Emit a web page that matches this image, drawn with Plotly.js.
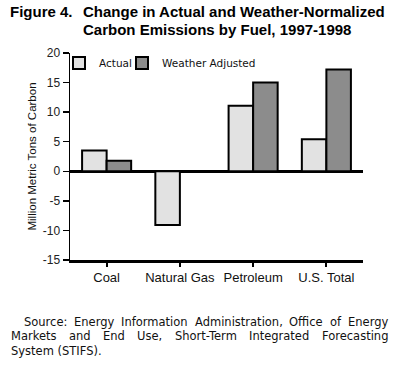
<!DOCTYPE html>
<html><head><meta charset="utf-8">
<script src="https://cdn.plot.ly/plotly-3.0.1.min.js"></script>
<style>html,body{margin:0;padding:0;background:#fff}#chart{width:400px;height:367px}</style>
</head><body><div id="chart"></div>
<script>
// ---- data ----
const categories = ['Coal', 'Natural Gas', 'Petroleum', 'U.S. Total'];
const actual = [3.5, -9.1, 11.1, 5.4];
const weatherAdjusted = [1.8, 0, 15.0, 17.2];
const seriesNames = ['Actual', 'Weather Adjusted'];
const yTicks = [-15, -10, -5, 0, 5, 10, 15, 20];
const figureLabel = 'Figure 4.';
const titleLines = ['Change in Actual and Weather-Normalized', 'Carbon Emissions by Fuel, 1997-1998'];
const yTitle = 'Million Metric Tons of Carbon';
const sourceLines = [
  'Source: Energy Information Administration, Office of Energy',
  'Markets and End Use, Short-Term Integrated Forecasting',
  'System (STIFS).'
];

// ---- layout helpers (plot area is x 70..363, y 53..260 px) ----
const L = 70, R = 363, T = 53, B = 260;
const px = v => (v - L) / (R - L);
const py = v => (B - v) / (B - T);

const sansFamily = '"Liberation Sans", Arial, sans-serif';
const wideFamily = '"DejaVu Sans", sans-serif';
const srcSize = 11.5;
const cvs = document.createElement('canvas');
const ctx = cvs.getContext('2d');
function measure(t, size) { ctx.font = size + 'px "DejaVu Sans"'; return ctx.measureText(t).width; }

const titleFont = {family: sansFamily, size: 15, color: '#000', weight: 'bold'};
const annotations = [];
function titleAnn(text, x, y) {
  annotations.push({text: text, xref: 'paper', yref: 'paper', x: px(x), y: py(y),
    xanchor: 'left', yanchor: 'middle', showarrow: false, borderpad: 0, font: titleFont});
}
titleAnn(figureLabel, 9, 11.5);
titleAnn(titleLines[0], 82, 11.5);
titleAnn(titleLines[1], 82, 29.5);

const srcFont = {family: wideFamily, size: srcSize, color: '#111'};
function srcAnn(text, x, y) {
  annotations.push({text: text, xref: 'paper', yref: 'paper', x: px(x), y: py(y),
    xanchor: 'left', yanchor: 'middle', showarrow: false, borderpad: 0, font: srcFont});
}
function justify(line, x0, x1, yc) {
  const words = line.split(' ');
  const w = words.map(s => measure(s, srcSize));
  const total = w.reduce((a, b) => a + b, 0);
  const gap = (x1 - x0 - total) / (words.length - 1);
  let x = x0;
  words.forEach((s, i) => { srcAnn(s, x, yc); x += w[i] + gap; });
}
justify(sourceLines[0], 23, 387, 321.5);
justify(sourceLines[1], 10, 387, 336);
srcAnn(sourceLines[2], 10, 350.5);

const traces = [
  {type: 'bar', name: seriesNames[0], x: categories, y: actual, legend: 'legend',
   marker: {color: '#e2e2e2', line: {color: '#000', width: 2}}},
  {type: 'bar', name: seriesNames[1], x: categories, y: weatherAdjusted, legend: 'legend2',
   marker: {color: '#8c8c8c', line: {color: '#000', width: 2}}}
];

const legendBase = {orientation: 'h', xanchor: 'left', y: py(63), yanchor: 'middle',
  bgcolor: 'rgba(0,0,0,0)', font: {family: wideFamily, size: 10.5, color: '#111'}, itemwidth: 30};

const layout = {
  width: 400, height: 367,
  margin: {l: L, r: 400 - R, t: T, b: 367 - B, pad: 0},
  paper_bgcolor: '#fff', plot_bgcolor: '#fff',
  barmode: 'group', bargap: 0.33, bargroupgap: 0,
  showlegend: true,
  legend: Object.assign({}, legendBase, {x: px(59)}),
  legend2: Object.assign({}, legendBase, {x: px(122)}),
  xaxis: {type: 'category', range: [-0.5, 3.5], showline: true, linecolor: '#000', linewidth: 2.5,
    ticks: 'outside', ticklen: 4, tickwidth: 2, tickcolor: '#000', showgrid: false,
    tickfont: {family: sansFamily, size: 13, color: '#111'}, fixedrange: true},
  yaxis: {range: [-15, 20], tickvals: yTicks, ticktext: yTicks.map(String),
    showline: true, linecolor: '#000', linewidth: 1.5, ticks: 'outside', ticklen: 6, tickwidth: 1.5,
    tickcolor: '#000', showgrid: false, zeroline: true, zerolinecolor: '#000', zerolinewidth: 2.5,
    tickfont: {family: sansFamily, size: 12, color: '#222'},
    title: {text: yTitle, font: {family: sansFamily, size: 11.5, color: '#111'}, standoff: 3},
    fixedrange: true},
  annotations: annotations
};

Plotly.newPlot('chart', traces, layout, {staticPlot: true, displayModeBar: false});
</script>
</body></html>
